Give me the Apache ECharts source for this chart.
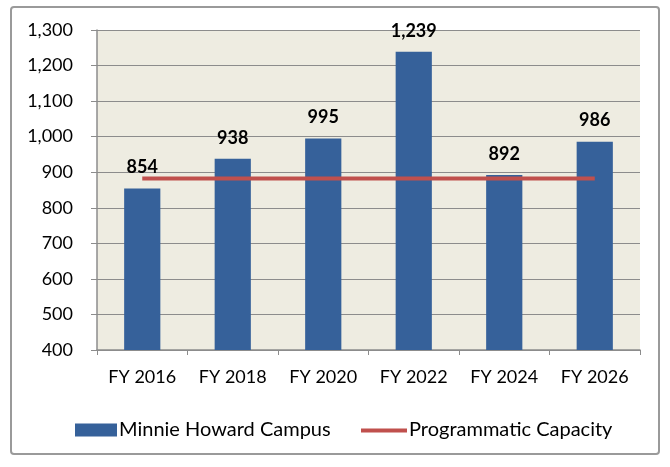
<!DOCTYPE html>
<html>
<head>
<meta charset="utf-8">
<script src="https://cdn.jsdelivr.net/npm/echarts@6/dist/echarts.min.js"></script>
<style>
  html, body { margin: 0; padding: 0; background: #fff; }
  #wrap { position: absolute; left: 10px; top: 6px; width: 650px; height: 449px; border: 2px solid #9a9a9a; border-radius: 4px; box-sizing: border-box; }
  #chart { width: 670px; height: 467px; position: absolute; left: 0; top: 0; }
</style>
</head>
<body>
<div id="wrap"></div>
<div id="chart"></div>
<script>
const years = ['FY 2016', 'FY 2018', 'FY 2020', 'FY 2022', 'FY 2024', 'FY 2026'];
const enrollment = [854, 938, 995, 1239, 892, 986];
const capacity = [882, 882, 882, 882, 882, 882];

const font = 'Lato, "Open Sans", sans-serif';
const fmt = v => v.toLocaleString('en-US');

var myChart = echarts.init(document.getElementById('chart'));
myChart.setOption({
  animation: false,
  textStyle: { fontFamily: font },
  grid: { left: 97, right: 30, top: 30, bottom: 117, backgroundColor: '#EEECE1', show: true, borderWidth: 0 },
  legend: [
    {
      left: 70,
      top: 415,
      itemGap: 4,
      itemWidth: 42,
      itemHeight: 13,
      textStyle: { fontSize: 20, color: '#000', fontFamily: font, padding: [0, 0, 0, -3] },
      data: [{ name: 'Minnie Howard Campus', icon: 'rect', itemStyle: { color: '#36619A' } }]
    },
    {
      left: 356,
      top: 415,
      itemWidth: 46,
      itemHeight: 13,
      textStyle: { fontSize: 20, color: '#000', fontFamily: font, padding: [0, 0, 0, -3] },
      data: [{
        name: 'Programmatic Capacity',
        icon: 'path://M0,0 M46,13 M0,5 L46,5 L46,9 L0,9 Z',
        itemStyle: { color: '#C0504D' }
      }]
    }
  ],
  xAxis: {
    type: 'category',
    data: years,
    axisLine: { lineStyle: { color: '#8c8c8c', width: 1.5 } },
    axisTick: { show: true, length: 5, lineStyle: { color: '#8c8c8c' } },
    axisLabel: { fontSize: 18, color: '#000', margin: 18, fontFamily: font }
  },
  yAxis: {
    type: 'value',
    min: 400,
    max: 1300,
    interval: 100,
    axisLine: { show: true, lineStyle: { color: '#8c8c8c', width: 1.5 } },
    axisTick: { show: true, length: 6, lineStyle: { color: '#8c8c8c' } },
    axisLabel: { fontSize: 18, color: '#000', margin: 24, formatter: fmt, fontFamily: font },
    splitLine: { lineStyle: { color: '#8c8c8c', width: 1.2 } }
  },
  series: [
    {
      name: 'Minnie Howard Campus',
      type: 'bar',
      data: enrollment,
      barWidth: '40%',
      itemStyle: { color: '#36619A' },
      label: {
        show: true,
        position: 'top',
        distance: 12,
        formatter: p => fmt(p.value),
        fontSize: 18,
        fontWeight: 'bold',
        color: '#000',
        fontFamily: font
      },
      z: 2
    },
    {
      name: 'Programmatic Capacity',
      type: 'line',
      data: capacity,
      symbol: 'none',
      lineStyle: { color: '#C0504D', width: 4 },
      itemStyle: { color: '#C0504D' },
      z: 3
    }
  ]
});
</script>
</body>
</html>
